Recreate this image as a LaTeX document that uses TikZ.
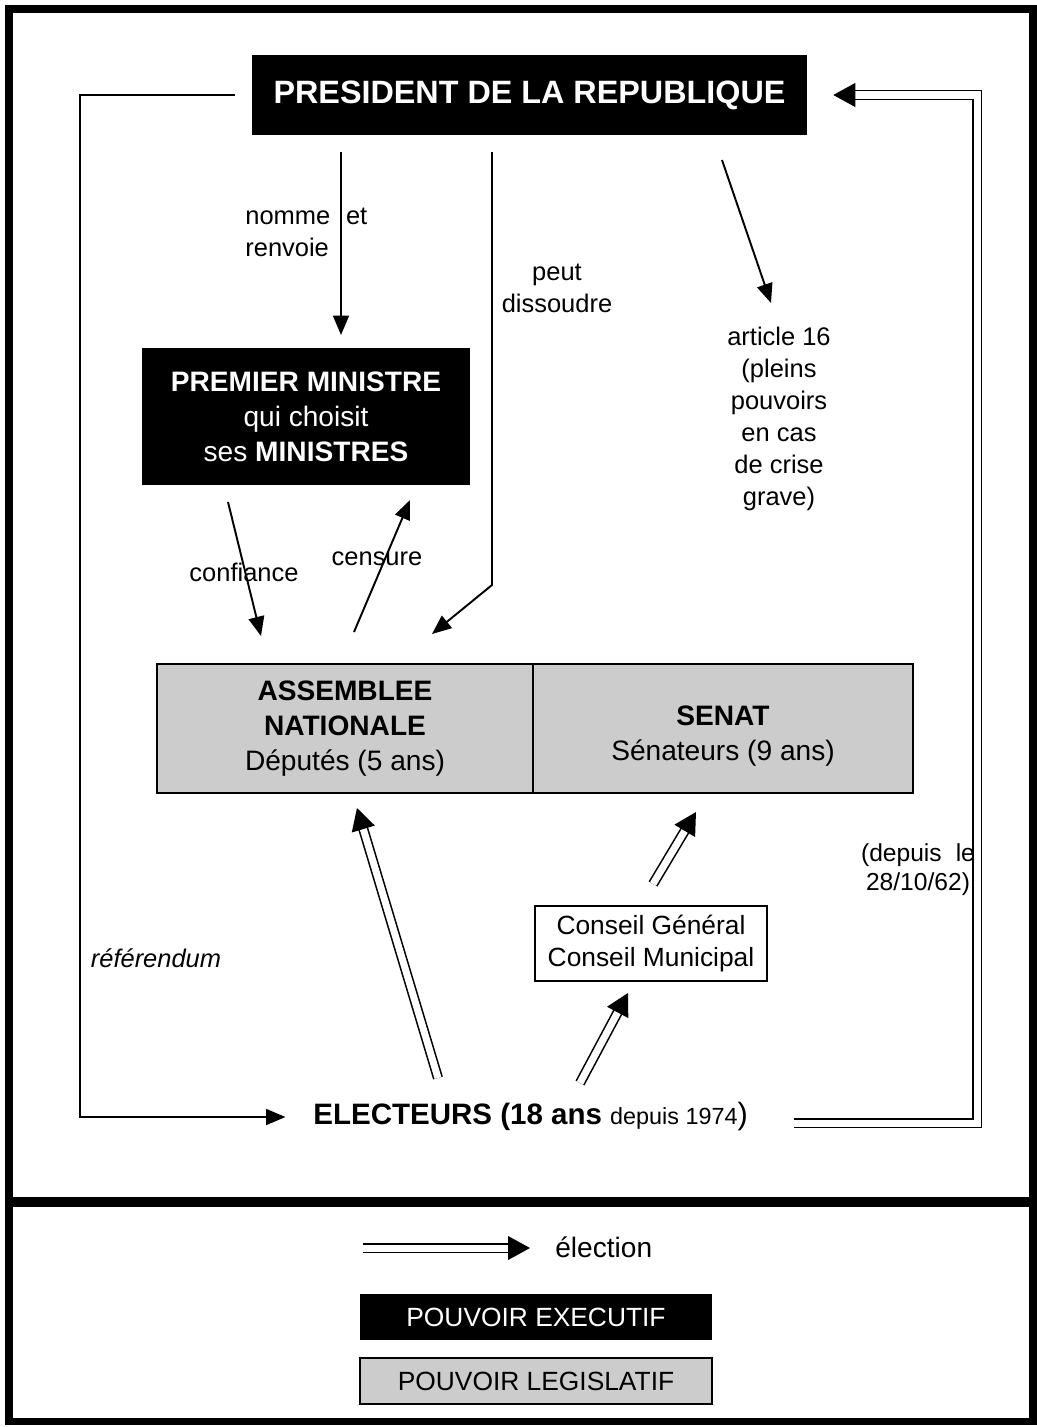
\documentclass[tikz,border=0pt]{standalone}
\usepackage{fontspec}
\setmainfont{Liberation Sans}
\usetikzlibrary{arrows.meta,positioning}

\begin{document}
\begin{tikzpicture}
    [
        x = 0.02cm, y = -0.02cm,
        exec/.style = {fill = black, text = white, inner sep = 0pt, align = center},
        legis/.style = {draw, line width = 1.3pt, fill = black!20, inner sep = 0pt, align = center},
        txt/.style = {font = \fontsize{14.5}{18.2}\selectfont, align = center, inner sep = 0pt},
        box/.style = {font = \fontsize{16}{20}\selectfont},
        link/.style = {line width = 1.1pt, -{Triangle[length = 11pt, width = 9pt]}},
        vote/.style = {double, double distance = 4pt, line width = 0.9pt, -{Triangle[length = 12.5pt, width = 13.5pt]}}
    ]

    \useasboundingbox (0,0) rectangle (1037,1427);

    % frame
    \draw[line width = 4pt] (9,9) rectangle (1033,1421);
    \draw[line width = 5.5pt] (9,1202) -- (1033,1202);

    % boxes
    \node[exec, minimum width = 11.1cm, minimum height = 1.6cm, font = \fontsize{18.4}{20}\selectfont\bfseries]
        (president) at (529.5,95) {PRESIDENT DE LA REPUBLIQUE};
    \node[exec, box, minimum width = 6.56cm, minimum height = 2.74cm]
        (premier) at (306,416.5) {\textbf{PREMIER MINISTRE}\\qui choisit\\ses \textbf{MINISTRES}};
    \node[legis, box, minimum width = 7.52cm, minimum height = 2.58cm]
        (assemblee) at (345,728.5) {\textbf{ASSEMBLEE}\\\textbf{NATIONALE}\\Députés (5 ans)};
    \node[legis, box, minimum width = 7.6cm, minimum height = 2.58cm]
        (senat) at (723,728.5) {\mbox{}\\\textbf{SENAT}\\Sénateurs (9 ans)};
    \node[draw, line width = 1.3pt, txt, font = \fontsize{15}{18.5}\selectfont, minimum width = 4.64cm, minimum height = 1.5cm]
        (conseil) at (651,943.5) {Conseil Général\\Conseil Municipal};
    \node[anchor = west, inner ysep = 0pt, inner xsep = 0.55cm]
        (electeurs) at (285.5,1117) {\fontsize{16.8}{20}\selectfont\bfseries ELECTEURS (18 ans
        \fontsize{13.3}{16}\selectfont\mdseries depuis 1974\fontsize{17.5}{20}\selectfont)};

    % labels
    \node[txt, align = left, anchor = west] (nomme) at (245,232) {nomme\hspace{9pt}et\\renvoie};
    \node[txt] (dissoudre) at (557,288) {peut\\dissoudre};
    \node[txt] (article) at (779,419) {article 16\\(pleins\\pouvoirs\\en cas\\de crise\\grave)};
    \node[txt] (confiance) at (244,572) {confiance};
    \node[txt] (censure) at (377,559) {censure};
    \node[txt, font = \fontsize{14.5}{18}\selectfont\itshape] (referendum) at (156,958) {référendum};
    \node[txt, font = \fontsize{14}{16.5}\selectfont] (depuis) at (918,870) {(depuis\hspace{8pt}le\\28/10/62)};

    % arrow ends
    \coordinate (nomme start) at (341,152);
    \coordinate (nomme end) at (341,335);
    \coordinate (dissout start) at (492,152);
    \coordinate (dissout bend) at (492,585);
    \coordinate (dissout end) at (432,634);
    \coordinate (article start) at (722,160);
    \coordinate (article end) at (771,303);
    \coordinate (confiance start) at (228,502);
    \coordinate (confiance end) at (261,636);
    \coordinate (censure start) at (354,632);
    \coordinate (censure end) at (410,500);
    \coordinate (vote an start) at (438,1078);
    \coordinate (vote an end) at (357,808);
    \coordinate (vote cg start) at (580,1083);
    \coordinate (vote cg end) at (628,993);
    \coordinate (vote senat start) at (653,884);
    \coordinate (vote senat end) at (696,812);

    % powers
    \draw[link] (nomme start) -- (nomme end);
    \draw[link] (dissout start) -- (dissout bend) -- (dissout end);
    \draw[link] (article start) -- (article end);
    \draw[link] (confiance start) -- (confiance end);
    \draw[link] (censure start) -- (censure end);
    \draw[link] ([xshift = -0.34cm]president.west) -| (80,600) |- (electeurs.west);

    % elections
    \draw[vote] (vote an start) -- (vote an end);
    \draw[vote] (vote cg start) -- (vote cg end);
    \draw[vote] (vote senat start) -- (vote senat end);
    \draw[vote] ([xshift = 0.36cm, yshift = -0.12cm]electeurs.east) -| ([xshift = 3.4cm]president.east)
        -- ([xshift = 0.52cm]president.east);

    % legend
    \coordinate (legend start) at (363,1248);
    \coordinate (legend end) at (530,1248);
    \draw[vote] (legend start) -- (legend end);
    \node[txt, font = \fontsize{16}{20}\selectfont, anchor = west] (election) at (555,1247) {élection};
    \node[exec, font = \fontsize{15}{18}\selectfont, minimum width = 7.04cm, minimum height = 0.92cm]
        (executif) at (536,1317) {POUVOIR EXECUTIF};
    \node[legis, font = \fontsize{15}{18}\selectfont, minimum width = 7.04cm, minimum height = 0.92cm]
        (legislatif) at (536,1381) {POUVOIR LEGISLATIF};
\end{tikzpicture}
\end{document}
